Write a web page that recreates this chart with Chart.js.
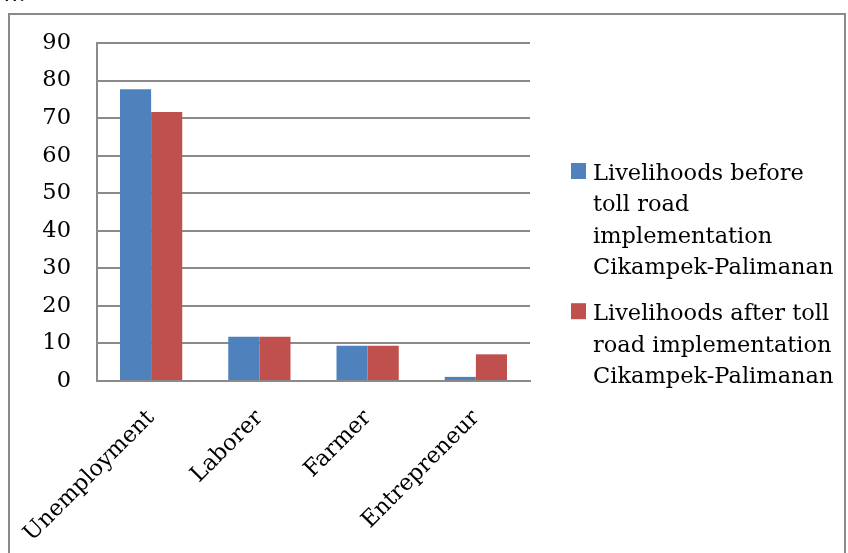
<!DOCTYPE html>
<html>
<head>
<meta charset="utf-8">
<script src="https://cdn.jsdelivr.net/npm/chart.js@4.4.1/dist/chart.umd.min.js"></script>
<style>
  html, body { margin: 0; padding: 0; background: #fff; }
  #wrap { position: relative; width: 848px; height: 553px; overflow: hidden; }
  #frag { position: absolute; left: -14px; top: -21px; font: 24px "DejaVu Serif", serif; color: #000; }
</style>
</head>
<body>
<div id="wrap">
  <canvas id="c" width="848" height="553"></canvas>
  <div id="frag">ow.</div>
</div>
<script>
const categories = ['Unemployment', 'Laborer', 'Farmer', 'Entrepreneur'];
const beforeValues = [77.7, 11.8, 9.4, 1.1];
const afterValues = [71.6, 11.8, 9.4, 7.1];
const seriesLabels = [
  ['Livelihoods before', 'toll road', 'implementation', 'Cikampek-Palimanan'],
  ['Livelihoods after toll', 'road implementation', 'Cikampek-Palimanan']
];
const seriesColors = ['#4F81BD', '#C0504D'];
const yTicks = [0, 10, 20, 30, 40, 50, 60, 70, 80, 90];

const FONT = '"DejaVu Serif", serif';
const FS = 22.5;

const framePlugin = {
  id: 'frame',
  beforeDraw(chart) {
    const ctx = chart.ctx;
    ctx.save();
    ctx.strokeStyle = '#8a8a8a';
    ctx.lineWidth = 2;
    ctx.strokeRect(9, 14, 836, 560);
    ctx.restore();
  }
};

const legendPlugin = {
  id: 'sideLegend',
  afterDraw(chart) {
    const ctx = chart.ctx;
    ctx.save();
    ctx.font = FS + 'px ' + FONT;
    ctx.textBaseline = 'alphabetic';
    ctx.fillStyle = '#000';
    const lineH = 31.3;
    let y = 180;
    chart.data.datasets.forEach((ds, i) => {
      ctx.fillStyle = ds.backgroundColor;
      ctx.fillRect(571, y - 17, 15, 16);
      ctx.fillStyle = '#000';
      ds.label.forEach((line, j) => {
        ctx.fillText(line, 593, y + j * lineH);
      });
      y += ds.label.length * lineH + 15;
    });
    ctx.restore();
  }
};

new Chart(document.getElementById('c'), {
  type: 'bar',
  data: {
    labels: categories,
    datasets: [
      { label: seriesLabels[0], data: beforeValues, backgroundColor: seriesColors[0] },
      { label: seriesLabels[1], data: afterValues, backgroundColor: seriesColors[1] }
    ]
  },
  options: {
    responsive: false,
    animation: false,
    events: [],
    layout: { padding: { left: 0, top: 43, right: 318, bottom: 0 } },
    datasets: { bar: { categoryPercentage: 0.575, barPercentage: 1.0 } },
    plugins: { legend: { display: false }, tooltip: { enabled: false } },
    scales: {
      x: {
        grid: { display: false, drawTicks: false },
        border: { display: true, color: '#8a8a8a', width: 2 },
        ticks: {
          autoSkip: false, minRotation: 45, maxRotation: 45, padding: 24,
          color: '#000', font: { family: FONT, size: FS }
        },
        afterFit(s) { s.height = 172; s.paddingLeft = 0; s.paddingRight = 0; }
      },
      y: {
        min: 0, max: 90,
        afterBuildTicks(s) { s.ticks = yTicks.map(v => ({ value: v })); },
        grid: { color: '#8a8a8a', lineWidth: 2, drawTicks: false },
        border: { display: true, color: '#8a8a8a', width: 2 },
        ticks: { padding: 26, color: '#000', font: { family: FONT, size: FS } },
        afterFit(s) { s.width = 97; s.paddingTop = 0; s.paddingBottom = 0; }
      }
    }
  },
  plugins: [framePlugin, legendPlugin]
});
</script>
</body>
</html>
